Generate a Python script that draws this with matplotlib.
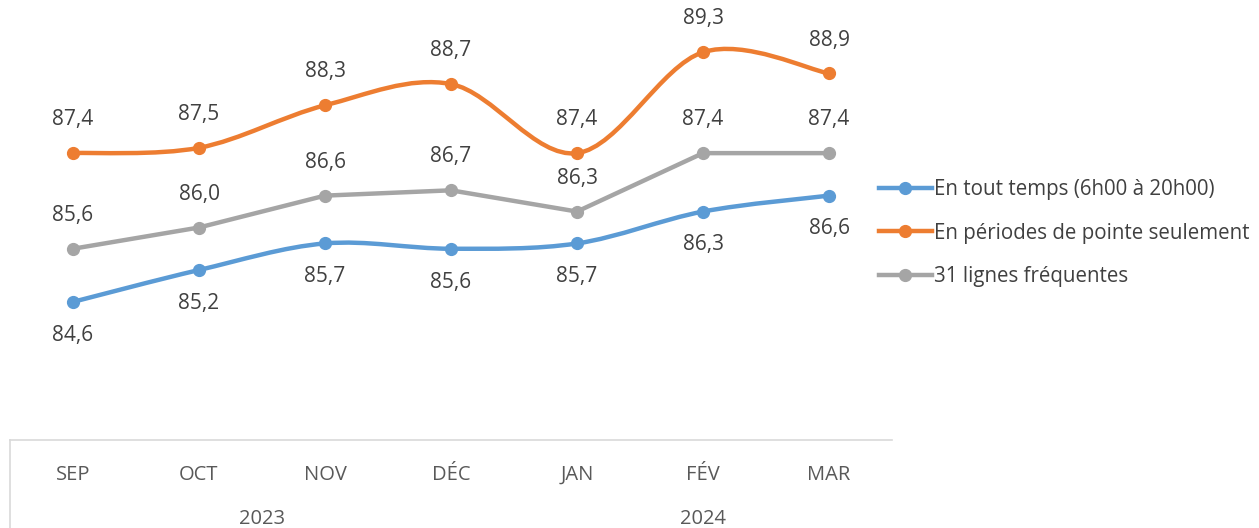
import numpy as np
import matplotlib
matplotlib.use("Agg")
import matplotlib.pyplot as plt
from matplotlib.path import Path
from matplotlib.patches import PathPatch
from matplotlib.lines import Line2D

# data
months = ["SEP", "OCT", "NOV", "DÉC", "JAN", "FÉV", "MAR"]
years = ["2023", "2024"]
year_spans = [(0, 3), (4, 6)]   # first and last month index of each year
tout_temps = [84.6, 85.2, 85.7, 85.6, 85.7, 86.3, 86.6]
pointe = [87.4, 87.5, 88.3, 88.7, 87.4, 89.3, 88.9]
lignes_freq = [85.6, 86.0, 86.6, 86.7, 86.3, 87.4, 87.4]

names = ["En tout temps (6h00 à 20h00)", "En périodes de pointe seulement", "31 lignes fréquentes"]
colors = ["#5B9BD5", "#ED7D31", "#A5A5A5"]

plt.rcParams['font.family'] = ['Open Sans', 'DejaVu Sans']
txt_col = "#404040"

fig = plt.figure(figsize=(12.59, 5.28), dpi=100)
ax = fig.add_axes([10/1259, 1-440/528, 882/1259, 425/528])
x = np.arange(len(months))


def smooth_path(xs, ys):
    # Excel style smoothed line: cubic bezier through the points
    pts = np.column_stack([xs, ys]).astype(float)
    n = len(pts)
    verts = [pts[0]]
    codes = [Path.MOVETO]
    for i in range(n-1):
        p0 = pts[i-1] if i > 0 else pts[i]
        p1 = pts[i]
        p2 = pts[i+1]
        p3 = pts[i+2] if i+2 < n else pts[i+1]
        c1 = p1 + (p2 - p0)/6
        c2 = p2 - (p3 - p1)/6
        verts += [c1, c2, p2]
        codes += [Path.CURVE4]*3
    return Path(verts, codes)


series = [tout_temps, pointe, lignes_freq]
smooth = [True, True, False]
offsets = [-24, 24, 24]
for vals, col, sm, off in zip(series, colors, smooth, offsets):
    if sm:
        ax.add_patch(PathPatch(smooth_path(x, vals), fill=False, edgecolor=col,
                               lw=3.2, capstyle='round', joinstyle='round', zorder=2))
    else:
        ax.plot(x, vals, color=col, lw=3.2, solid_capstyle='round', zorder=2)
    ax.plot(x, vals, 'o', color=col, ms=8.5, zorder=3)
    for xi, v in zip(x, vals):
        ax.annotate(f"{v:.1f}".replace(".", ","), (xi, v), xytext=(0, off),
                    textcoords='offset points', ha='center', va='center',
                    fontsize=15, color=txt_col)

ax.set_xlim(-0.5, len(months)-0.5)
ax.set_ylim(82, 90)
for s in ["top", "right", "left"]:
    ax.spines[s].set_visible(False)
ax.spines["bottom"].set_color("#D9D9D9")
ax.spines["bottom"].set_linewidth(1.2)
ax.set_yticks([])
ax.set_xticks(x)
ax.set_xticklabels(months, fontsize=14.5, color="#595959")
ax.tick_params(axis='x', length=0, pad=18)

# year row of the category axis
for yr, (a, b) in zip(years, year_spans):
    ax.text((a+b)/2, -0.185, yr, transform=ax.get_xaxis_transform(),
            ha='center', va='center', fontsize=14.5, color="#595959")
ax.plot([-0.5, -0.5], [0, -0.25], transform=ax.get_xaxis_transform(),
        color="#D9D9D9", lw=1.2, clip_on=False)

handles = [Line2D([0], [0], color=c, lw=3.2, marker='o', ms=8.5) for c in colors]
fig.legend(handles, names, loc='center left', bbox_to_anchor=(860/1259, 1-233/528),
           frameon=False, fontsize=14.8, handlelength=2.6, handletextpad=0.1,
           labelspacing=1.1, labelcolor=txt_col)

fig.savefig("out.png", dpi=100)
